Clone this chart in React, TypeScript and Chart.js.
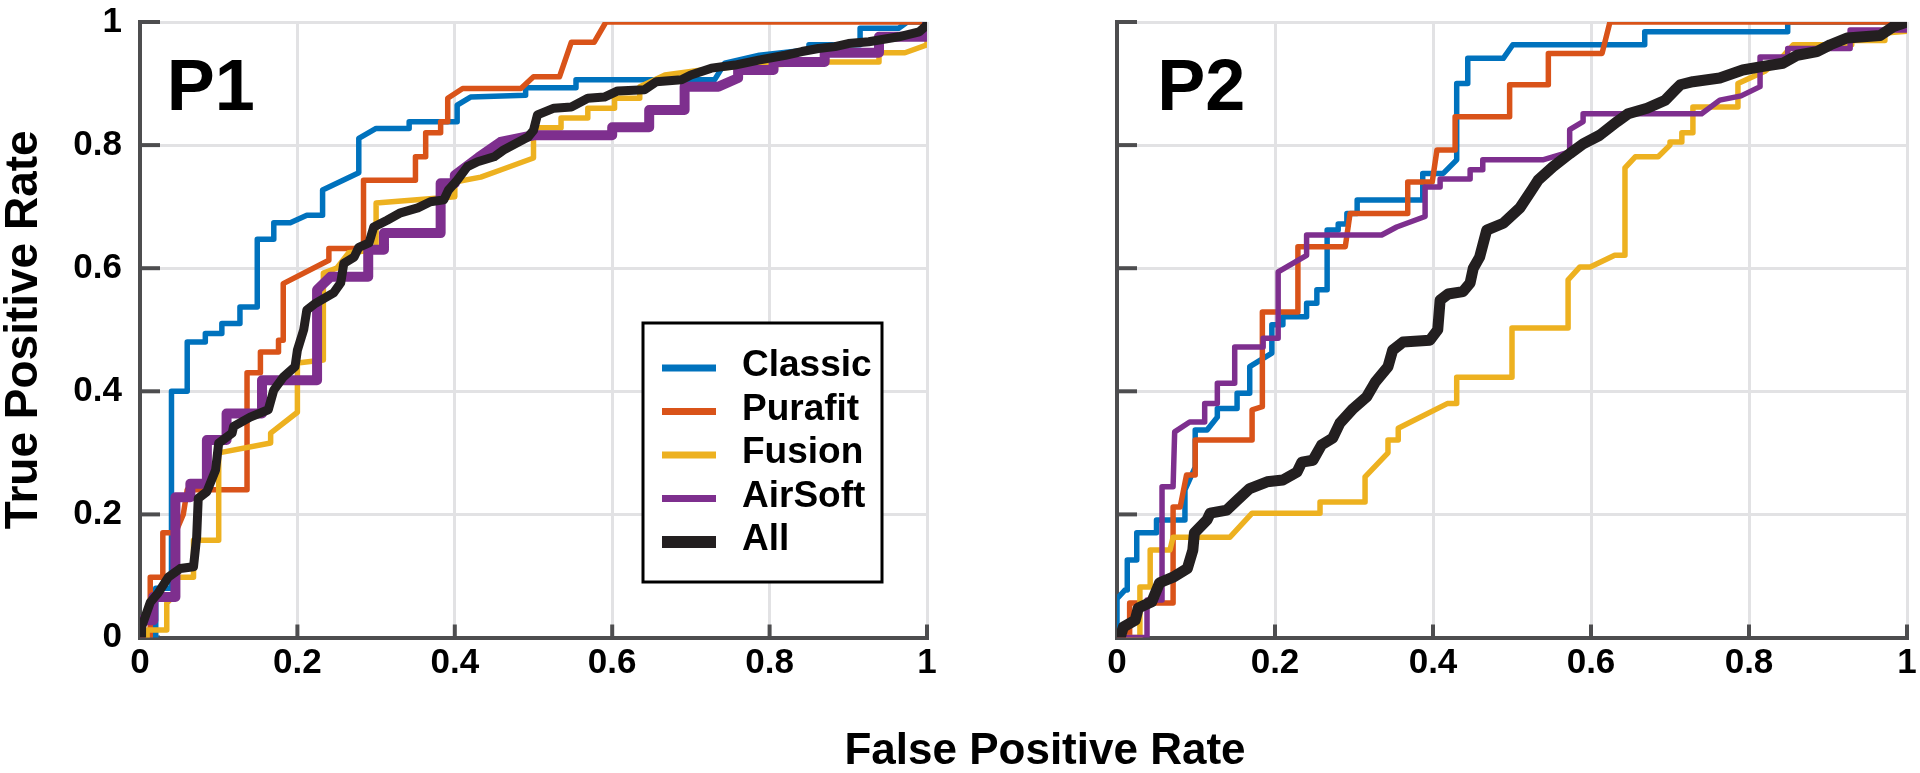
import { useEffect, useRef } from 'react';
import { Chart, registerables } from 'chart.js';

Chart.register(...registerables);

type Pt = [number, number];

const FONT = '"Liberation Sans", Arial, sans-serif';
const TICK_VALUES = [0, 0.2, 0.4, 0.6, 0.8, 1];
const TICK_LABELS = ['0', '0.2', '0.4', '0.6', '0.8', '1'];
const SERIES_NAMES = ['Classic', 'Purafit', 'Fusion', 'AirSoft', 'All'];
const SERIES_COLORS = ['#0072BD', '#D95319', '#EDB120', '#7E2F8E', '#231F20'];
const PANEL_NAMES = ['P1', 'P2'];
const Y_TITLE = 'True Positive Rate';
const X_TITLE = 'False Positive Rate';

// ---------- P1 ----------
const P1_CLASSIC: Pt[] = [[0,0],[0.02,0],[0.02,0.08],[0.04,0.08],[0.04,0.4],[0.06,0.4],[0.06,0.48],[0.083,0.48],[0.083,0.494],[0.104,0.494],[0.104,0.51],[0.127,0.51],[0.127,0.537],[0.149,0.537],[0.149,0.647],[0.17,0.647],[0.17,0.674],[0.191,0.674],[0.212,0.686],[0.232,0.686],[0.232,0.727],[0.278,0.755],[0.278,0.811],[0.3,0.827],[0.342,0.827],[0.342,0.838],[0.403,0.838],[0.403,0.865],[0.42,0.878],[0.49,0.881],[0.49,0.893],[0.554,0.893],[0.554,0.906],[0.73,0.906],[0.743,0.933],[0.787,0.946],[0.85,0.955],[0.85,0.963],[0.915,0.963],[0.915,0.99],[0.964,0.99],[0.975,1],[1,1]];
const P1_PURAFIT: Pt[] = [[0,0],[0.013,0],[0.013,0.098],[0.029,0.098],[0.029,0.17],[0.045,0.17],[0.055,0.2],[0.06,0.24],[0.136,0.24],[0.136,0.43],[0.153,0.43],[0.153,0.464],[0.176,0.464],[0.176,0.483],[0.182,0.483],[0.182,0.575],[0.24,0.613],[0.24,0.632],[0.284,0.632],[0.284,0.743],[0.35,0.743],[0.35,0.781],[0.363,0.781],[0.363,0.82],[0.382,0.82],[0.382,0.838],[0.391,0.838],[0.391,0.876],[0.41,0.892],[0.484,0.892],[0.5,0.911],[0.533,0.911],[0.548,0.967],[0.577,0.967],[0.592,1],[1,1]];
const P1_FUSION: Pt[] = [[0,0],[0.009,0],[0.009,0.012],[0.034,0.012],[0.034,0.056],[0.045,0.07],[0.045,0.098],[0.068,0.098],[0.068,0.158],[0.1,0.158],[0.1,0.3],[0.166,0.316],[0.166,0.332],[0.2,0.366],[0.2,0.446],[0.233,0.451],[0.233,0.592],[0.25,0.6],[0.265,0.625],[0.3,0.63],[0.3,0.706],[0.4,0.716],[0.4,0.74],[0.433,0.748],[0.459,0.76],[0.5,0.779],[0.5,0.828],[0.535,0.828],[0.535,0.844],[0.569,0.844],[0.569,0.86],[0.603,0.86],[0.603,0.876],[0.635,0.876],[0.635,0.895],[0.667,0.914],[0.73,0.925],[0.8,0.93],[0.876,0.935],[0.939,0.935],[0.939,0.95],[0.972,0.95],[1,0.963],[1,1]];
const P1_AIRSOFT: Pt[] = [[0,0],[0,0.028],[0.017,0.028],[0.017,0.066],[0.045,0.066],[0.045,0.228],[0.064,0.228],[0.064,0.25],[0.085,0.25],[0.085,0.321],[0.11,0.321],[0.11,0.364],[0.155,0.364],[0.155,0.418],[0.225,0.418],[0.225,0.565],[0.242,0.586],[0.29,0.586],[0.29,0.63],[0.31,0.63],[0.31,0.657],[0.382,0.657],[0.382,0.738],[0.4,0.738],[0.4,0.751],[0.43,0.78],[0.458,0.805],[0.5,0.816],[0.6,0.816],[0.6,0.829],[0.647,0.829],[0.647,0.857],[0.692,0.857],[0.692,0.895],[0.735,0.895],[0.76,0.909],[0.76,0.922],[0.805,0.922],[0.805,0.935],[0.87,0.935],[0.87,0.95],[0.939,0.95],[0.939,0.976],[1,0.976],[1,1]];
const P1_ALL: Pt[] = [[0.002,0],[0.002,0.017],[0.013,0.057],[0.023,0.072],[0.036,0.098],[0.051,0.112],[0.068,0.115],[0.072,0.163],[0.074,0.226],[0.085,0.237],[0.096,0.272],[0.1,0.316],[0.117,0.332],[0.119,0.343],[0.14,0.358],[0.163,0.37],[0.17,0.402],[0.182,0.423],[0.197,0.44],[0.2,0.467],[0.208,0.5],[0.212,0.532],[0.223,0.543],[0.246,0.56],[0.255,0.576],[0.259,0.608],[0.272,0.618],[0.278,0.634],[0.291,0.641],[0.297,0.667],[0.314,0.678],[0.331,0.69],[0.353,0.698],[0.369,0.708],[0.386,0.711],[0.392,0.727],[0.403,0.743],[0.416,0.765],[0.429,0.773],[0.45,0.781],[0.462,0.792],[0.493,0.813],[0.5,0.824],[0.505,0.849],[0.526,0.86],[0.548,0.862],[0.569,0.876],[0.59,0.878],[0.607,0.888],[0.641,0.89],[0.656,0.903],[0.688,0.906],[0.7,0.914],[0.726,0.925],[0.756,0.93],[0.786,0.938],[0.82,0.946],[0.841,0.952],[0.862,0.957],[0.883,0.96],[0.9,0.965],[0.926,0.968],[0.964,0.976],[0.99,0.984],[1,0.995],[1,1]];

// ---------- P2 ----------
const P2_CLASSIC: Pt[] = [[0,0],[0,0.063],[0.01,0.077],[0.013,0.077],[0.013,0.126],[0.025,0.126],[0.025,0.17],[0.05,0.17],[0.05,0.191],[0.086,0.191],[0.086,0.24],[0.099,0.277],[0.099,0.337],[0.114,0.337],[0.127,0.358],[0.127,0.372],[0.152,0.372],[0.152,0.397],[0.168,0.397],[0.168,0.44],[0.196,0.462],[0.196,0.508],[0.21,0.508],[0.21,0.521],[0.24,0.521],[0.24,0.543],[0.253,0.543],[0.253,0.565],[0.266,0.565],[0.266,0.662],[0.28,0.662],[0.28,0.672],[0.291,0.672],[0.291,0.689],[0.304,0.689],[0.304,0.711],[0.387,0.711],[0.387,0.754],[0.413,0.754],[0.43,0.776],[0.43,0.9],[0.444,0.9],[0.444,0.941],[0.489,0.941],[0.501,0.963],[0.668,0.963],[0.668,0.984],[0.849,0.984],[0.849,1],[1,1]];
const P2_PURAFIT: Pt[] = [[0,0],[0.016,0],[0.016,0.056],[0.071,0.056],[0.071,0.212],[0.08,0.212],[0.088,0.264],[0.099,0.264],[0.099,0.321],[0.171,0.321],[0.171,0.37],[0.184,0.375],[0.184,0.529],[0.229,0.529],[0.229,0.635],[0.289,0.635],[0.295,0.689],[0.368,0.689],[0.368,0.74],[0.399,0.74],[0.405,0.792],[0.428,0.792],[0.428,0.846],[0.497,0.846],[0.497,0.898],[0.546,0.898],[0.546,0.949],[0.614,0.949],[0.624,1],[1,1]];
const P2_FUSION: Pt[] = [[0,0],[0.029,0],[0.029,0.082],[0.042,0.082],[0.042,0.142],[0.067,0.142],[0.071,0.163],[0.143,0.163],[0.171,0.202],[0.257,0.202],[0.257,0.22],[0.314,0.22],[0.314,0.261],[0.343,0.3],[0.343,0.321],[0.356,0.321],[0.356,0.34],[0.418,0.38],[0.43,0.38],[0.43,0.423],[0.5,0.423],[0.5,0.503],[0.571,0.503],[0.571,0.581],[0.586,0.602],[0.599,0.602],[0.63,0.621],[0.643,0.621],[0.643,0.763],[0.656,0.781],[0.685,0.781],[0.7,0.8],[0.7,0.805],[0.715,0.805],[0.715,0.82],[0.729,0.82],[0.729,0.862],[0.786,0.862],[0.786,0.9],[0.82,0.92],[0.84,0.94],[0.856,0.963],[0.93,0.963],[0.93,0.97],[0.972,0.97],[0.972,0.982],[1,0.985],[1,1]];
const P2_AIRSOFT: Pt[] = [[0,0],[0.038,0],[0.038,0.061],[0.057,0.061],[0.057,0.245],[0.071,0.245],[0.073,0.334],[0.092,0.35],[0.111,0.35],[0.111,0.38],[0.127,0.38],[0.127,0.413],[0.149,0.413],[0.149,0.472],[0.185,0.472],[0.185,0.486],[0.204,0.486],[0.204,0.594],[0.24,0.621],[0.24,0.654],[0.335,0.654],[0.354,0.667],[0.39,0.684],[0.39,0.732],[0.409,0.732],[0.409,0.745],[0.447,0.745],[0.447,0.76],[0.463,0.76],[0.463,0.776],[0.539,0.776],[0.573,0.789],[0.573,0.825],[0.59,0.838],[0.59,0.851],[0.74,0.851],[0.763,0.873],[0.79,0.88],[0.814,0.895],[0.814,0.943],[0.849,0.943],[0.849,0.957],[0.928,0.957],[0.928,0.987],[1,0.987],[1,1]];
const P2_ALL: Pt[] = [[0.004,0],[0.008,0.017],[0.023,0.028],[0.027,0.048],[0.044,0.058],[0.054,0.089],[0.071,0.098],[0.089,0.112],[0.096,0.142],[0.098,0.17],[0.114,0.191],[0.118,0.202],[0.139,0.207],[0.152,0.223],[0.168,0.242],[0.19,0.253],[0.21,0.256],[0.228,0.269],[0.234,0.285],[0.248,0.288],[0.259,0.313],[0.273,0.324],[0.282,0.348],[0.299,0.372],[0.316,0.391],[0.327,0.415],[0.343,0.44],[0.349,0.467],[0.362,0.48],[0.396,0.483],[0.406,0.5],[0.409,0.548],[0.419,0.558],[0.438,0.562],[0.447,0.576],[0.451,0.6],[0.459,0.618],[0.468,0.662],[0.489,0.673],[0.51,0.698],[0.525,0.727],[0.533,0.743],[0.552,0.765],[0.573,0.786],[0.59,0.802],[0.611,0.816],[0.633,0.838],[0.647,0.851],[0.671,0.86],[0.694,0.873],[0.706,0.889],[0.713,0.898],[0.729,0.903],[0.763,0.909],[0.792,0.922],[0.814,0.927],[0.843,0.933],[0.861,0.946],[0.886,0.952],[0.903,0.963],[0.924,0.974],[0.966,0.978],[0.982,0.992],[1,1]];

const P1_SERIES: Pt[][] = [P1_CLASSIC, P1_PURAFIT, P1_FUSION, P1_AIRSOFT, P1_ALL];
const P2_SERIES: Pt[][] = [P2_CLASSIC, P2_PURAFIT, P2_FUSION, P2_AIRSOFT, P2_ALL];
const P1_WIDTHS = [5.5, 5.5, 5.5, 10, 9];
const P2_WIDTHS = [5.5, 5.5, 5.5, 5.5, 11];

const AXIS_COLOR = '#4d4d4f';
const GRID_COLOR = '#e2e2e4';

const inwardTicks = {
  id: 'inwardTicks',
  beforeDatasetsDraw(chart: any) {
    const { ctx, chartArea: a, scales } = chart;
    const x = scales.x, y = scales.y;
    ctx.save();
    ctx.strokeStyle = AXIS_COLOR;
    ctx.lineWidth = 4;
    ctx.lineCap = 'butt';
    y.ticks.forEach((t: any) => {
      const py = y.getPixelForValue(t.value);
      ctx.beginPath();
      ctx.moveTo(a.left, py);
      ctx.lineTo(a.left + 20, py);
      ctx.stroke();
    });
    x.ticks.forEach((t: any) => {
      const px = x.getPixelForValue(t.value);
      ctx.beginPath();
      ctx.moveTo(px, a.bottom);
      ctx.lineTo(px, a.bottom - 13);
      ctx.stroke();
    });
    ctx.restore();
  },
};

const panelLabel = {
  id: 'panelLabel',
  afterDatasetsDraw(chart: any, _args: any, opts: any) {
    if (!opts || !opts.text) return;
    const { ctx, scales } = chart;
    ctx.save();
    ctx.font = `bold ${opts.size}px ${FONT}`;
    ctx.fillStyle = '#000';
    ctx.textAlign = 'left';
    ctx.textBaseline = 'alphabetic';
    ctx.fillText(opts.text, scales.x.getPixelForValue(opts.x), scales.y.getPixelForValue(opts.y));
    ctx.restore();
  },
};

const boxLegend = {
  id: 'boxLegend',
  afterDatasetsDraw(chart: any, _args: any, opts: any) {
    if (!opts || !opts.show) return;
    const { ctx } = chart;
    const { left, top, right, bottom, rowStart, rowGap, lineX0, lineX1, textX, widths, fontSize } = opts;
    ctx.save();
    ctx.fillStyle = '#fff';
    ctx.fillRect(left, top, right - left, bottom - top);
    ctx.lineWidth = 3;
    ctx.strokeStyle = '#000';
    ctx.strokeRect(left, top, right - left, bottom - top);
    chart.data.datasets.forEach((ds: any, i: number) => {
      const yy = rowStart + i * rowGap;
      ctx.strokeStyle = ds.borderColor;
      ctx.lineWidth = widths[i];
      ctx.lineCap = 'butt';
      ctx.beginPath();
      ctx.moveTo(lineX0, yy);
      ctx.lineTo(lineX1, yy);
      ctx.stroke();
      ctx.fillStyle = '#000';
      ctx.font = `bold ${fontSize}px ${FONT}`;
      ctx.textAlign = 'left';
      ctx.textBaseline = 'middle';
      ctx.fillText(ds.label, textX, yy - 2);
    });
    ctx.restore();
  },
};

function buildDatasets(series: Pt[][], widths: number[]) {
  return series.map((pts, i) => ({
    label: SERIES_NAMES[i],
    data: pts.map(([x, y]) => ({ x, y })),
    borderColor: SERIES_COLORS[i],
    backgroundColor: SERIES_COLORS[i],
    borderWidth: widths[i],
    pointRadius: 0,
    pointHoverRadius: 0,
    showLine: true,
    fill: false,
    tension: 0,
    borderJoinStyle: 'round' as const,
    borderCapStyle: 'round' as const,
    order: series.length - 1 - i,
  }));
}

function makeConfig(panel: number): any {
  const isLeft = panel === 0;
  const yWidth = isLeft ? 140 : 157;
  const padRight = isLeft ? 33 : 13;
  const tickFont = { family: FONT, size: 35, weight: 'bold' as const };
  const setTicks = (s: any) => {
    s.ticks = TICK_VALUES.map((value) => ({ value }));
  };
  return {
    type: 'scatter',
    data: { datasets: buildDatasets(isLeft ? P1_SERIES : P2_SERIES, isLeft ? P1_WIDTHS : P2_WIDTHS) },
    options: {
      responsive: false,
      maintainAspectRatio: false,
      animation: false,
      events: [],
      layout: { padding: { top: 22, right: padRight, bottom: 0, left: 0 } },
      scales: {
        x: {
          type: 'linear',
          min: 0,
          max: 1,
          afterBuildTicks: setTicks,
          afterFit: (s: any) => {
            s.height = 135.5;
            s.paddingLeft = 0;
            s.paddingRight = 0;
          },
          grid: { color: GRID_COLOR, lineWidth: 3, drawTicks: false },
          border: { display: true, color: AXIS_COLOR, width: 4 },
          ticks: {
            callback: (_v: any, i: number) => TICK_LABELS[i],
            font: tickFont,
            color: '#000',
            padding: 5,
            maxRotation: 0,
            autoSkip: false,
          },
        },
        y: {
          type: 'linear',
          min: 0,
          max: 1,
          afterBuildTicks: setTicks,
          afterFit: (s: any) => {
            s.width = yWidth;
            s.paddingTop = 0;
            s.paddingBottom = 0;
          },
          grid: { color: GRID_COLOR, lineWidth: 3, drawTicks: false },
          border: { display: true, color: AXIS_COLOR, width: 4 },
          ticks: {
            display: isLeft,
            callback: (_v: any, i: number) => TICK_LABELS[i],
            font: tickFont,
            color: '#000',
            padding: 18,
            autoSkip: false,
          },
          title: {
            display: isLeft,
            text: Y_TITLE,
            color: '#000',
            font: { family: FONT, size: 46, weight: 'bold', lineHeight: 1.05 },
            padding: 0,
          },
        },
      },
      plugins: {
        legend: { display: false },
        tooltip: { enabled: false },
        panelLabel: { text: PANEL_NAMES[panel], x: isLeft ? 0.034 : 0.051, y: 0.857, size: 72 },
        boxLegend: {
          show: isLeft,
          left: 643, top: 323, right: 882, bottom: 582,
          rowStart: 368, rowGap: 43.5,
          lineX0: 662, lineX1: 716, textX: 742,
          widths: [7, 7, 7, 7, 12],
          fontSize: 37,
        },
      },
    },
    plugins: [inwardTicks, panelLabel, boxLegend],
  };
}

export default function App() {
  const leftRef = useRef<HTMLCanvasElement>(null);
  const rightRef = useRef<HTMLCanvasElement>(null);

  useEffect(() => {
    const c1 = new Chart(leftRef.current as HTMLCanvasElement, makeConfig(0));
    const c2 = new Chart(rightRef.current as HTMLCanvasElement, makeConfig(1));
    return () => {
      c1.destroy();
      c2.destroy();
    };
  }, []);

  return (
    <div style={{ position: 'absolute', left: 0, top: 0, width: 1920, height: 773, background: '#fff', overflow: 'hidden' }}>
      <canvas ref={leftRef} width={960} height={773} style={{ position: 'absolute', left: 0, top: 0, width: 960, height: 773 }} />
      <canvas ref={rightRef} width={960} height={773} style={{ position: 'absolute', left: 960, top: 0, width: 960, height: 773 }} />
      <div
        style={{
          position: 'absolute',
          left: 545,
          top: 727,
          width: 1000,
          textAlign: 'center',
          fontFamily: FONT,
          fontWeight: 'bold',
          fontSize: 44,
          lineHeight: '44px',
          color: '#000',
          whiteSpace: 'nowrap',
        }}
      >
        {X_TITLE}
      </div>
    </div>
  );
}
